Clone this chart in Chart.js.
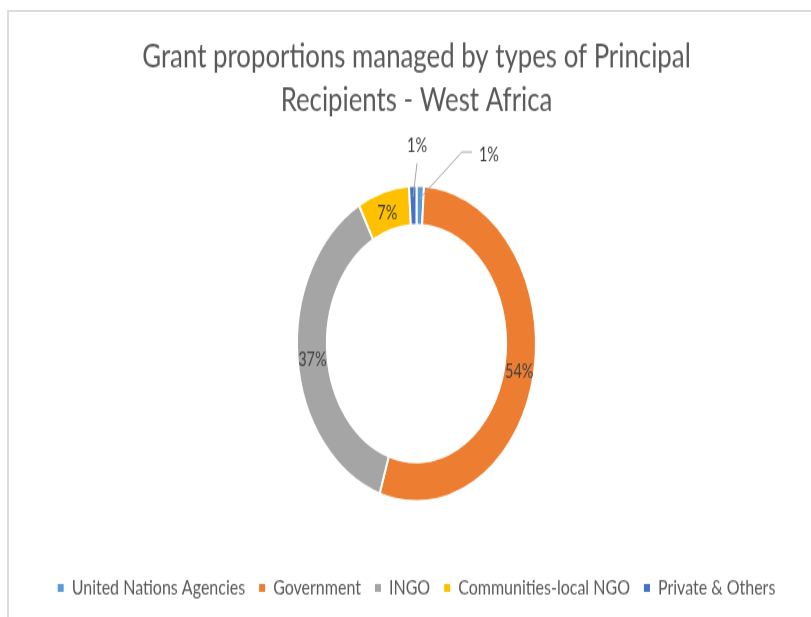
<!DOCTYPE html>
<html>
<head>
<meta charset="utf-8">
<script src="https://cdn.jsdelivr.net/npm/chart.js@4.4.1/dist/chart.umd.min.js"></script>
<style>
  body { margin: 0; background: #fff; }
  #frame { position: absolute; left: 7px; top: 10px; width: 820px; height: 620px;
           border-left: 2px solid #dcdcdc; border-top: 2px solid #dcdcdc; }
  #wrap { position: absolute; left: 0; top: 0; width: 811px; height: 467px;
          transform: scale(1, 1.3212); transform-origin: 0 0; }
</style>
</head>
<body>
<div id="frame"></div>
<div id="wrap"><canvas id="myChart" width="811" height="467"></canvas></div>
<script>
// Daten
const categories = ['United Nations Agencies', 'Government', 'INGO', 'Communities-local NGO', 'Private & Others'];
const shares = [1, 54, 37, 7, 1];
const colors = ['#5b9bd5', '#ed7d31', '#a5a5a5', '#ffc000', '#4472c4'];
const titleLines = ['Grant proportions managed by types of Principal', 'Recipients - West Africa'];

// Beschriftungen mit Fuehrungslinie (nur fuer die kleinen Stuecke)
const leaders = {
    0: { r: 110, line: [[42, -35], [52, -35]], label: [59, -33], align: 'left' },
    4: { r: 111, line: [[4, -25.5]], label: [4, -39], align: 'center' }
};

const sliceLabels = {
    id: 'sliceLabels',
    afterDatasetsDraw(chart) {
        const ctx = chart.ctx;
        const meta = chart.getDatasetMeta(0);
        ctx.save();
        ctx.font = '14.5px Lato';
        ctx.textBaseline = 'middle';
        meta.data.forEach((arc, i) => {
            const p = arc.getProps(['x', 'y', 'startAngle', 'endAngle', 'innerRadius', 'outerRadius'], true);
            const mid = (p.startAngle + p.endAngle) / 2;
            const text = shares[i] + '%';
            const lead = leaders[i];
            if (!lead) {
                const r = (p.innerRadius + p.outerRadius) / 2;
                ctx.fillStyle = '#404040';
                ctx.textAlign = 'center';
                ctx.fillText(text, p.x + Math.cos(mid) * r, p.y + Math.sin(mid) * r + 2);
                return;
            }
            const ax = p.x + Math.cos(mid) * lead.r;
            const ay = p.y + Math.sin(mid) * lead.r;
            ctx.strokeStyle = '#a6a6a6';
            ctx.lineWidth = 1;
            ctx.beginPath();
            ctx.moveTo(ax, ay);
            lead.line.forEach(pt => ctx.lineTo(ax + pt[0], ay + pt[1]));
            ctx.stroke();
            ctx.fillStyle = '#404040';
            ctx.textAlign = lead.align;
            ctx.fillText(text, ax + lead.label[0], ay + lead.label[1]);
        });
        ctx.restore();
    }
};

const config = {
    type: 'doughnut',
    data: {
        labels: categories,
        datasets: [{
            data: shares,
            backgroundColor: colors,
            borderColor: '#ffffff',
            borderWidth: 2
        }]
    },
    options: {
        responsive: false,
        animation: false,
        devicePixelRatio: 1,
        cutout: '75%',
        radius: 119.5,
        layout: { padding: { top: 10, left: 22, right: 0, bottom: 4 } },
        plugins: {
            tooltip: { enabled: false },
            title: {
                display: true,
                text: titleLines,
                color: '#595959',
                font: { family: 'Lato', size: 25.8, weight: 'normal', lineHeight: 1.26 },
                padding: { top: 16.75, bottom: 5.25 }
            },
            legend: {
                position: 'bottom',
                labels: {
                    color: '#595959',
                    font: { family: 'Lato', size: 16 },
                    boxWidth: 6,
                    boxHeight: 6,
                    padding: 14,
                    generateLabels(chart) {
                        const items = Chart.overrides.doughnut.plugins.legend.labels.generateLabels(chart);
                        return items.map(it => Object.assign(it, { lineWidth: 0, strokeStyle: it.fillStyle }));
                    }
                }
            }
        }
    },
    plugins: [sliceLabels]
};

const ctx = document.querySelector('#myChart').getContext('2d');
new Chart(ctx, config);
</script>
</body>
</html>
